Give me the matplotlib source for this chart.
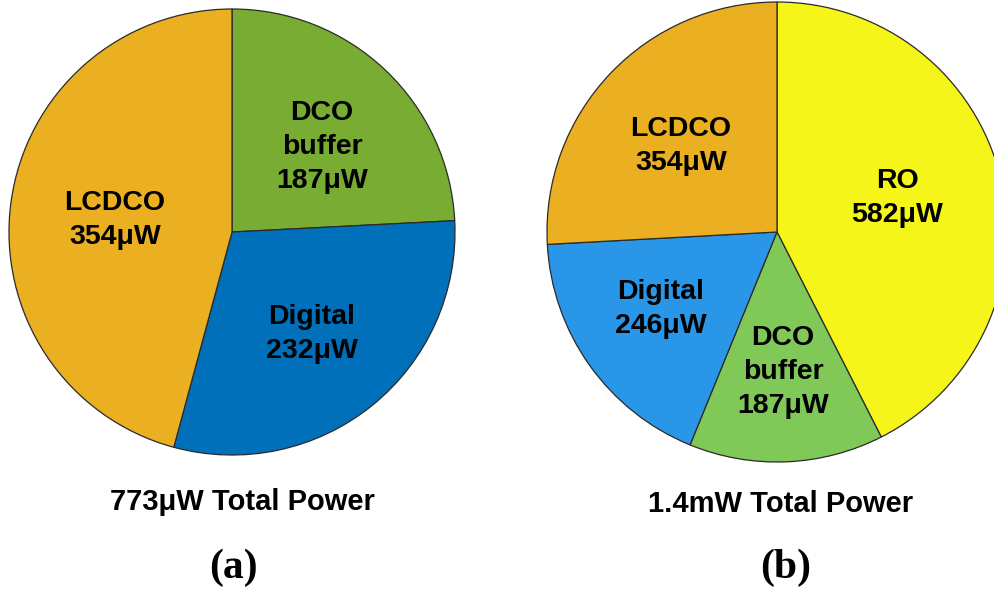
import matplotlib.pyplot as plt

plt.rcParams["font.family"] = ["Liberation Sans", "DejaVu Sans"]

# Power breakdown, design (a)
names_a = ["DCO\nbuffer", "Digital", "LCDCO"]
power_a = [187, 232, 354]
colors_a = ["#78AC32", "#0070BB", "#EBAF22"]
total_a = "773μW Total Power"

# Power breakdown, design (b)
names_b = ["RO", "DCO\nbuffer", "Digital", "LCDCO"]
power_b = [582, 187, 246, 354]
colors_b = ["#F5F51A", "#80C858", "#2A96E8", "#EBAF22"]
total_b = "1.4mW Total Power"

# label anchor points in pixel coordinates (x, y from top)
label_pos_a = [(322, 147), (312, 334), (115, 220)]
label_pos_b = [(897, 198), (783, 372), (661, 309), (681, 146)]

W, H = 995, 592
fig = plt.figure(figsize=(W / 100, H / 100), dpi=100)
ax = fig.add_axes([0, 0, 1, 1])

wedge_style = {"edgecolor": "#2a2a2a", "linewidth": 0.9}

ax.pie(power_a, colors=colors_a, startangle=90, counterclock=False,
       center=(232, H - 232), radius=223, wedgeprops=wedge_style, frame=True)
ax.pie(power_b, colors=colors_b, startangle=90, counterclock=False,
       center=(777, H - 232), radius=230, wedgeprops=wedge_style, frame=True)

# pie() resets limits when frame=True, so set them afterwards
ax.set_xlim(0, W)
ax.set_ylim(0, H)
ax.set_aspect("equal")
ax.axis("off")

for name, val, (x, y) in zip(names_a, power_a, label_pos_a):
    ax.text(x, H - y, f"{name}\n{val}μW", ha="center", va="center",
            fontsize=20.5, fontweight="bold", linespacing=1.38)
for name, val, (x, y) in zip(names_b, power_b, label_pos_b):
    ax.text(x, H - y, f"{name}\n{val}μW", ha="center", va="center",
            fontsize=20.5, fontweight="bold", linespacing=1.38)

ax.text(242, H - 502, total_a, ha="center", va="center",
        fontsize=21, fontweight="bold")
ax.text(781, H - 504, total_b, ha="center", va="center",
        fontsize=21, fontweight="bold")

ax.text(233, H - 568, "(a)", ha="center", va="center",
        fontsize=30, fontweight="bold", family="Liberation Serif")
ax.text(786, H - 568, "(b)", ha="center", va="center",
        fontsize=30, fontweight="bold", family="Liberation Serif")

fig.savefig("out.png", dpi=100)
